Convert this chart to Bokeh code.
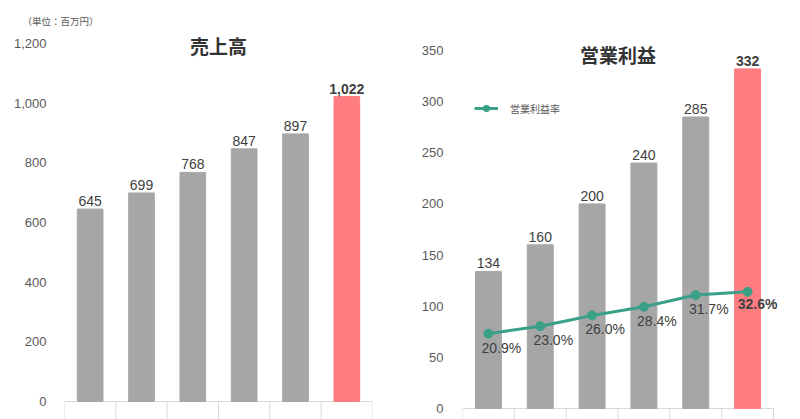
from bokeh.plotting import figure
from bokeh.layouts import row
from bokeh.models import (Range1d, FixedTicker, ColumnDataSource, LabelSet, Label,
                          Legend, LegendItem, Title)
from bokeh.core.properties import value
from bokeh.embed import file_html
from bokeh.resources import INLINE

# ---- data ----
sales = [645, 699, 768, 847, 897, 1022]
sales_labels = ["645", "699", "768", "847", "897", "1,022"]
profit = [134, 160, 200, 240, 285, 332]
profit_labels = ["134", "160", "200", "240", "285", "332"]
margin = [20.9, 23.0, 26.0, 28.4, 31.7, 32.6]
margin_labels = ["20.9%", "23.0%", "26.0%", "28.4%", "31.7%", "32.6%"]
sales_ticks = [0, 200, 400, 600, 800, 1000, 1200]
profit_ticks = [0, 50, 100, 150, 200, 250, 300, 350]

GRAY = "#a6a6a6"
RED = "#ff7c80"
GREEN = "#3aa087"
TXT = "#404040"
TICK = "#595959"
DIV = "#d9d9d9"
NUM_FONT = "Liberation Sans"
JP_FONT = "Noto Sans CJK JP"

n = len(sales)
xc = [i + 0.5 for i in range(n)]
bounds = list(range(n + 1))
colors = [GRAY] * (n - 1) + [RED]
TOP = 30  # frame top (px) for both panels


def base_fig(width, height, xmax, ymin, ymax, left, right, ticks, standoff):
    p = figure(width=width, height=height, output_backend="svg", toolbar_location=None,
               x_range=Range1d(0, xmax), y_range=Range1d(ymin, ymax),
               min_border_left=left, min_border_right=right,
               min_border_top=TOP, min_border_bottom=0, x_axis_location=None)
    p.outline_line_color = None
    p.grid.visible = False
    p.background_fill_color = "white"
    p.border_fill_color = "white"
    p.yaxis.ticker = FixedTicker(ticks=ticks)
    p.yaxis.axis_line_color = None
    p.yaxis.major_tick_line_color = None
    p.yaxis.minor_tick_line_color = None
    p.yaxis.major_label_standoff = standoff
    p.yaxis.major_label_text_font = NUM_FONT
    p.yaxis.major_label_text_font_size = "13px"
    p.yaxis.major_label_text_color = TICK
    # category axis line and boundary dividers
    p.segment(x0=[0], y0=[0], x1=[n], y1=[0], line_color=DIV, line_width=1)
    p.segment(x0=bounds, y0=[0] * len(bounds), x1=bounds, y1=[ymin] * len(bounds),
              line_color=DIV, line_width=1)
    return p


def value_labels(p, xs, ys, texts, bold):
    src = ColumnDataSource(dict(x=xs, y=ys, t=texts))
    p.add_layout(LabelSet(x="x", y="y", text="t", source=src, text_align="center",
                          text_baseline="alphabetic", y_offset=3,
                          text_font=value(NUM_FONT), text_font_size=value("14px"),
                          text_color=value(TXT),
                          text_font_style=value("bold" if bold else "normal")))


# ---------- left: 売上高 ----------
kl = (401 - 43) / 1200.0          # px per unit
pl = base_fig(400, 419, n, -18 / kl, (401 - TOP) / kl, 64, 28, sales_ticks, 12)
pl.yaxis.major_label_overrides = {t: f"{t:,}" for t in sales_ticks}
pl.vbar(x=xc, top=sales, width=0.5, fill_color=colors, line_color=colors)
value_labels(pl, xc[:-1], sales[:-1], sales_labels[:-1], False)
value_labels(pl, xc[-1:], sales[-1:], sales_labels[-1:], True)
pl.add_layout(Label(x=n / 2, y=1200 - 2 / kl, text="売上高", text_align="center",
                    text_baseline="middle", text_font=JP_FONT, text_font_size="19px",
                    text_font_style="bold", text_color="#333333"))
pl.add_layout(Title(text="（単位：百万円）", align="left", offset=-42, standoff=5,
                    text_font=JP_FONT, text_font_size="9.5px", text_font_style="normal",
                    text_color=TICK), "above")

# ---------- right: 営業利益 ----------
kr = (408 - 50) / 350.0
ymin_r = -11 / kr
ymax_r = (408 - TOP) / kr
cat_px = (773 - 462) / n           # px per category
pr = base_fig(400, 419, n + 17 / cat_px, ymin_r, ymax_r, 62, 10, profit_ticks, 13)
pr.extra_y_ranges = {"pct": Range1d(ymin_r / 3.5, ymax_r / 3.5)}
pr.vbar(x=xc, top=profit, width=0.5, fill_color=colors, line_color=colors)
value_labels(pr, xc[:-1], profit[:-1], profit_labels[:-1], False)
value_labels(pr, xc[-1:], profit[-1:], profit_labels[-1:], True)

ln = pr.line(x=xc, y=margin, y_range_name="pct", line_color=GREEN, line_width=3)
sc = pr.scatter(x=xc, y=margin, y_range_name="pct", size=9, fill_color=GREEN,
                line_color=GREEN)

src_m = ColumnDataSource(dict(x=xc[:-1], y=margin[:-1], t=margin_labels[:-1]))
src_mh = ColumnDataSource(dict(x=xc[-1:], y=margin[-1:], t=margin_labels[-1:]))
pr.add_layout(LabelSet(x="x", y="y", text="t", source=src_m, y_range_name="pct",
                       text_align="center", text_baseline="middle", x_offset=13,
                       y_offset=-14, text_font=value(NUM_FONT),
                       text_font_size=value("14px"), text_color=value(TXT)))
pr.add_layout(LabelSet(x="x", y="y", text="t", source=src_mh, y_range_name="pct",
                       text_align="center", text_baseline="middle", x_offset=10,
                       y_offset=-12, text_font=value(NUM_FONT),
                       text_font_size=value("14px"), text_color=value(TXT),
                       text_font_style=value("bold")))

pr.add_layout(Label(x=n / 2, y=350 - 4 / kr, text="営業利益", text_align="center",
                    text_baseline="middle", text_font=JP_FONT, text_font_size="19px",
                    text_font_style="bold", text_color="#333333"))

legend = Legend(items=[LegendItem(label="営業利益率", renderers=[ln, sc])],
                location=(12, 303), padding=0, margin=0, glyph_width=24,
                glyph_height=16, label_height=16, label_standoff=12,
                label_text_font=JP_FONT, label_text_font_size="10px",
                label_text_color=TICK, border_line_color=None,
                background_fill_alpha=0)
pr.add_layout(legend)

layout = row(pl, pr)
open("out.html", "w").write(file_html(layout, INLINE))
